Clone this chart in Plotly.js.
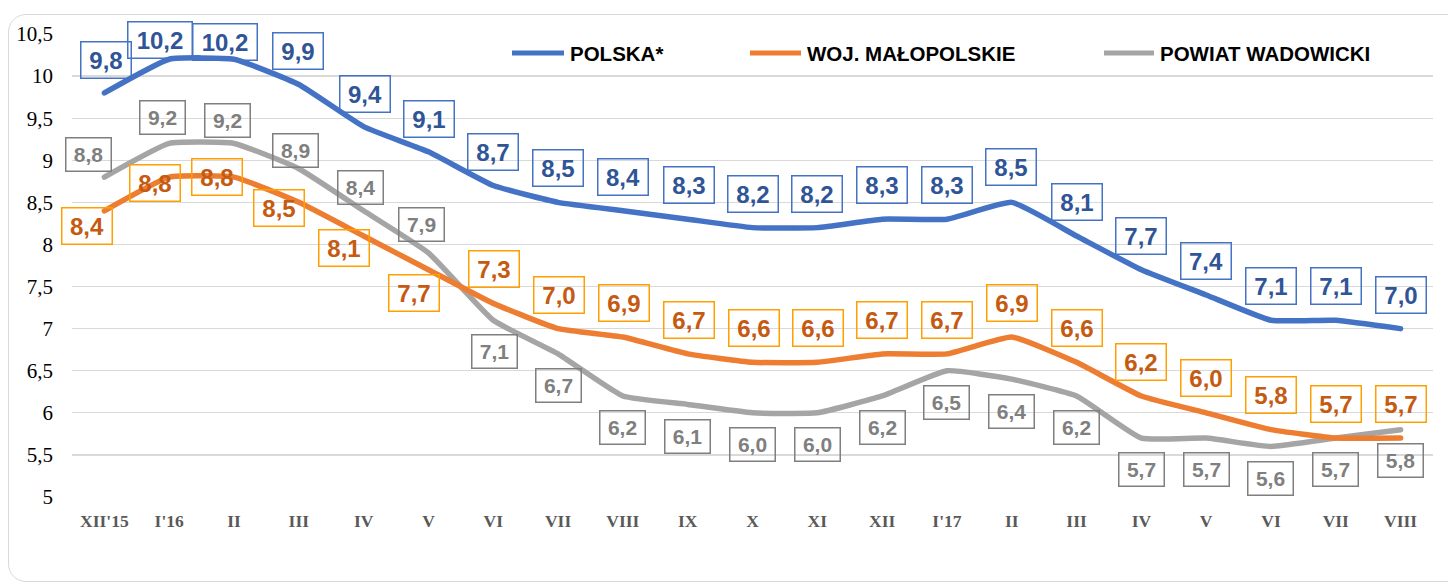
<!DOCTYPE html>
<html>
<head>
<meta charset="utf-8">
<script src="https://cdn.plot.ly/plotly-3.0.1.min.js"></script>
<style>
  html, body { margin:0; padding:0; width:1448px; height:584px; overflow:hidden; background:#fff; }
  #chart { position:absolute; left:0; top:0; width:1448px; height:584px; }
  #frame { position:absolute; left:8px; top:14px; width:1460px; height:566px; border:1.5px solid #d9d9d9; border-radius:18px; pointer-events:none; }
  .scatterlayer .js-line { stroke-linecap: round; }
</style>
</head>
<body>
<div id="chart"></div>
<div id="frame"></div>
<script>
// ---- data ----
const categories = ["XII'15","I'16","II","III","IV","V","VI","VII","VIII","IX","X","XI","XII","I'17","II","III","IV","V","VI","VII","VIII"];
const polska      = [9.8,10.2,10.2,9.9,9.4,9.1,8.7,8.5,8.4,8.3,8.2,8.2,8.3,8.3,8.5,8.1,7.7,7.4,7.1,7.1,7.0];
const malopolskie = [8.4,8.8,8.8,8.5,8.1,7.7,7.3,7.0,6.9,6.7,6.6,6.6,6.7,6.7,6.9,6.6,6.2,6.0,5.8,5.7,5.7];
const wadowicki   = [8.8,9.2,9.2,8.9,8.4,7.9,7.1,6.7,6.2,6.1,6.0,6.0,6.2,6.5,6.4,6.2,5.7,5.7,5.6,5.7,5.8];
const seriesNames = ["POLSKA*","WOJ. MAŁOPOLSKIE","POWIAT WADOWICKI"];
const yTickVals = [5,5.5,6,6.5,7,7.5,8,8.5,9,9.5,10,10.5];
const yTickText = ["5","5,5","6","6,5","7","7,5","8","8,5","9","9,5","10","10,5"];

// ---- label offsets (pixels, dx right, dy down) ----
const polskaDx = [2,-9,-9,-1,1,1,0,0,0,1,0,0,0,0,-1,0,0,0,0,0,0];
const polskaDy = [-33,-19,-17,-34,-33,-33,-34,-34,-34,-34,-34,-34,-34,-34,-35,-34,-34,-34,-34,-34,-34];
const maloDx = [-17,-14,-17,-20,-20,-14,1,1,1,1,1,1,0,0,0,0,0,0,0,0,0];
const maloDy = [15,6,0,6,12,23,-34,-34,-34,-34,-34,-34,-34,-34,-34,-34,-34,-35,-35,-34,-34];
const wadDx = [-16,-7,-7,-3,-3,-7,1,0,0,0,0,0,0,0,0,0,0,0,0,0,0];
const wadDy = [-23,-26,-23,-18,-23,-28,31,32,32,32,32,32,32,32,32,32,31,31,32,31,31];

const idx = categories.map((_, i) => i);
const fmt = v => v.toFixed(1).replace('.', ',');

const styles = [
  {data: polska, line:'#4472C4', text:'#2F5597', border:'#4472C4', dx:polskaDx, dy:polskaDy, size:24, h:35, w3:49, w4:63},
  {data: malopolskie, line:'#ED7D31', text:'#C55A11', border:'#FFA000', dx:maloDx, dy:maloDy, size:24, h:35, w3:49, w4:63},
  {data: wadowicki, line:'#A5A5A5', text:'#7F7F7F', border:'#7F7F7F', dx:wadDx, dy:wadDy, size:21, h:32, w3:44, w4:58}
];

const order = [2,1,0];
const traces = order.map(k => ({
  x: idx, y: styles[k].data, type:'scatter', mode:'lines', name: seriesNames[k],
  line: {color: styles[k].line, width: 5.5, shape:'spline', smoothing:0.4},
  showlegend:false, hoverinfo:'skip'
}));

const annotations = [];
styles.forEach(s => {
  s.data.forEach((v, i) => {
    const t = fmt(v);
    annotations.push({
      x: i, y: v, xref:'x', yref:'y', text: t, showarrow:false,
      xshift: s.dx[i], yshift: -s.dy[i],
      font: {family:'Liberation Sans, Arial, sans-serif', size: s.size, color: s.text, weight: 700},
      bordercolor: s.border, borderwidth: 1.5, borderpad: 0,
      width: t.length >= 4 ? s.w4 : s.w3, height: s.h,
      align:'center', valign:'middle', bgcolor:'rgba(0,0,0,0)'
    });
  });
});

// ---- manual legend ----
const ml = 72, mr = 15, mt = 34, mb = 87, W = 1448, H = 584;
const pw = W - ml - mr, ph = H - mt - mb;
const px = x => (x - ml) / pw;
const py = y => (H - mb - y) / ph;
const legendItems = [
  {x0:512, x1:564, tx:568, color:'#4472C4', name: seriesNames[0]},
  {x0:750, x1:801, tx:805, color:'#ED7D31', name: seriesNames[1]},
  {x0:1104, x1:1154, tx:1158, color:'#A5A5A5', name: seriesNames[2]}
];
const shapes = [];
legendItems.forEach(it => {
  shapes.push({type:'line', xref:'paper', yref:'paper', x0:px(it.x0), x1:px(it.x1), y0:py(53), y1:py(53),
    line:{color:it.color, width:5}});
  annotations.push({xref:'paper', yref:'paper', x:px(it.tx), y:py(53), xanchor:'left', yanchor:'middle',
    text: it.name, showarrow:false,
    font:{family:'Liberation Sans, Arial, sans-serif', size:20.5, color:'#000', weight:700}});
});

const layout = {
  width: W, height: H,
  margin: {l: ml, r: mr, t: mt, b: mb, pad: 0},
  paper_bgcolor:'rgba(0,0,0,0)', plot_bgcolor:'#fff',
  separators: ', ',
  showlegend:false,
  xaxis: {
    type:'linear', range:[-0.5, 20.5], tickmode:'array', tickvals: idx, ticktext: categories,
    showgrid:false, zeroline:false, showline:false, ticks:'',
    tickfont:{family:'Liberation Serif, serif', size:17.5, color:'#595959', weight:700},
    ticklabelstandoff: 11, fixedrange:true
  },
  yaxis: {
    range:[5, 10.5], tickmode:'array', tickvals: yTickVals, ticktext: yTickText,
    showgrid:true, gridcolor:'#d9d9d9', gridwidth:1.3, zeroline:false, showline:false, ticks:'',
    tickfont:{family:'Liberation Serif, serif', size:21, color:'#000'},
    ticklabelstandoff: 18, fixedrange:true
  },
  annotations: annotations,
  shapes: shapes
};

Plotly.newPlot('chart', traces, layout, {displayModeBar:false, staticPlot:true});
</script>
</body>
</html>
